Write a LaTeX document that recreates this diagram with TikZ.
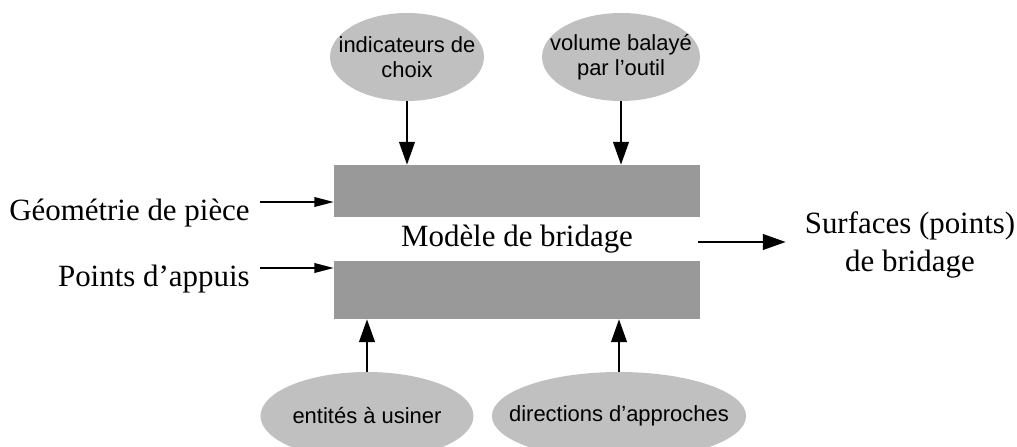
\documentclass[tikz,border=0pt]{standalone}
\usepackage{fontspec}
\setmainfont{Liberation Serif}
\setsansfont{Liberation Sans}
\usetikzlibrary{positioning}
\usetikzlibrary{shapes.geometric}
\usetikzlibrary{arrows.meta}
\definecolor{grisbloc}{HTML}{999999}
\definecolor{grisbulle}{HTML}{C0C0C0}

\begin{document}
\begin{tikzpicture}[x=0.02cm,y=-0.02cm,
	bloc/.style={fill=grisbloc,minimum width=7.32cm,inner sep=0pt},
	bulle/.style={ellipse,fill=grisbulle,minimum height=1.76cm,inner ysep=0pt,inner xsep=-0.4cm,align=center,font=\sffamily\fontsize{12.5}{14}\selectfont},
	texte/.style={font=\fontsize{17.6}{21.5}\selectfont},
	fleche/.style={line width=1pt,-{Triangle[length=13pt,width=9pt]}},
	fine/.style={line width=0.9pt,-{Triangle[length=11pt,width=5.5pt]}}]
	\useasboundingbox (0,0) rectangle (1017,446);
	\node[bloc,minimum height=1.04cm] (haut) at (517,191) {};
	\node[bloc,minimum height=1.16cm] (bas) at (517,290) {};
	\node[texte,anchor=base] (modele) at (517,246) {Modèle de bridage};
	\node[bulle,minimum width=3.08cm] (choix) at (407,57) {indicateurs de\\choix};
	\node[bulle,minimum width=3.16cm] (volume) at (621,57) {volume balayé\\par l’outil};
	\node[bulle,minimum width=4.26cm] (entites) at (367,416) {entités à usiner};
	\node[bulle,minimum width=4.96cm] (directions) at (619,416) {directions d’approches};
	\foreach \b in {choix,volume}
		\draw[fleche] (\b.south) -- (\b.south |- haut.north);
	\foreach \b in {entites,directions}
		\draw[fleche] (\b.north) -- (\b.north |- bas.south);
	\coordinate (geoD) at (260,202);
	\coordinate (appD) at (260,268);
	\node[texte,anchor=base east,inner sep=0pt] (geo) at (250,220) {Géométrie de pièce};
	\node[texte,anchor=base east,inner sep=0pt] (appuis) at (250,286) {Points d’appuis};
	\draw[fine] (geoD) -- (geoD -| haut.west);
	\draw[fine] (appD) -- (appD -| bas.west);
	\coordinate (sortie) at (698,242);
	\node[texte,align=center] (surf) at (910,245) {Surfaces (points)\\de bridage};
	\draw[fleche,shorten >=0.26cm] (sortie) -- (sortie -| surf.west);
\end{tikzpicture}
\end{document}
